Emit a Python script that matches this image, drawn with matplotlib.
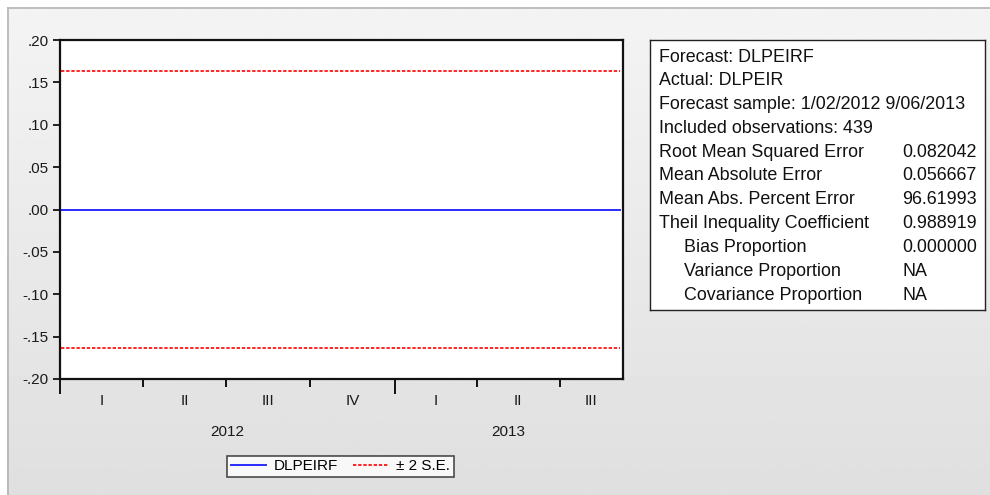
import numpy as np
import pandas as pd
import matplotlib
matplotlib.use("Agg")
import matplotlib.pyplot as plt
import matplotlib.dates as mdates

plt.rcParams['font.family'] = ['Liberation Sans', 'DejaVu Sans']

# data
dates = pd.bdate_range("2012-01-02", "2013-09-06")[:439]
forecast = np.zeros(len(dates))          # DLPEIRF
se2 = 0.1635                              # 2 * S.E.
upper = np.full(len(dates), se2)
lower = np.full(len(dates), -se2)

yticks = [-0.20, -0.15, -0.10, -0.05, 0.00, 0.05, 0.10, 0.15, 0.20]
ytick_labels = ['-.20', '-.15', '-.10', '-.05', '.00', '.05', '.10', '.15', '.20']
quarter_starts = ["2012-01-01", "2012-04-01", "2012-07-01", "2012-10-01",
                  "2013-01-01", "2013-04-01", "2013-07-01", "2013-09-07"]
quarter_labels = ['I', 'II', 'III', 'IV', 'I', 'II', 'III']
year_labels = ['2012', '2013']
year_bounds = ["2012-01-01", "2013-01-01", "2013-09-07"]

stats_left = ["Forecast: DLPEIRF", "Actual: DLPEIR",
              "Forecast sample: 1/02/2012 9/06/2013",
              "Included observations: 439",
              "Root Mean Squared Error", "Mean Absolute Error",
              "Mean Abs. Percent Error", "Theil Inequality Coefficient",
              "Bias Proportion", "Variance Proportion",
              "Covariance Proportion"]
stats_indent = [0, 0, 0, 0, 0, 0, 0, 0, 1, 1, 1]
stats_right = ["", "", "", "", "0.082042", "0.056667", "96.61993",
               "0.988919", "0.000000", "NA", "NA"]

fig = plt.figure(figsize=(9.9, 4.95), dpi=100)
fig.patch.set_facecolor('white')

# gradient background
bg = fig.add_axes([0, 0, 1, 1], zorder=-10)
grad = np.linspace(0.955, 0.875, 256).reshape(-1, 1)
bg.imshow(np.repeat(grad, 2, axis=1), cmap='gray', vmin=0, vmax=1,
          aspect='auto', extent=[7/990, 1, 0, 1 - 7/495])
bg.set_xlim(0, 1)
bg.set_ylim(0, 1)
bg.axis('off')
bg.plot([7.5/990, 7.5/990], [0, 1 - 7.5/495], color='#b4b4b4', lw=1.2)
bg.plot([7.5/990, 1], [1 - 7.5/495, 1 - 7.5/495], color='#b4b4b4', lw=1.2)

ax = fig.add_axes([60/990, 1 - 379/495, 563/990, 339/495])
x = mdates.date2num(dates)
ax.plot(x, forecast, color='#2a2aff', lw=1.4, label='DLPEIRF')
ax.plot(x, upper, color='red', lw=1.2, ls=(0, (2.0, 1.1)), label='± 2 S.E.')
ax.plot(x, lower, color='red', lw=1.2, ls=(0, (2.0, 1.1)))

xmin = mdates.date2num(pd.Timestamp("2012-01-01"))
xmax = mdates.date2num(pd.Timestamp("2013-09-08"))
ax.set_xlim(xmin, xmax)
ax.set_ylim(-0.2, 0.2)
ax.set_yticks(yticks)
ax.set_yticklabels(ytick_labels, fontsize=11, color='#1a1a1a')
ax.tick_params(axis='y', direction='out', length=5, width=1.2, pad=3)

qnum = mdates.date2num(pd.to_datetime(quarter_starts))
ynum = mdates.date2num(pd.to_datetime(year_bounds))
ax.set_xticks(ynum[:-1])
ax.set_xticks(qnum[:-1], minor=True)
ax.set_xticklabels([])
ax.tick_params(axis='x', which='major', direction='out', length=11, width=1.3)
ax.tick_params(axis='x', which='minor', direction='out', length=6, width=1.3)

trans = ax.get_xaxis_transform()
for i, lab in enumerate(quarter_labels):
    mid = (qnum[i] + qnum[i + 1]) / 2
    ax.text(mid, -0.065, lab, transform=trans, ha='center', va='center',
            fontsize=11, color='#1a1a1a')
for i, lab in enumerate(year_labels):
    mid = (ynum[i] + ynum[i + 1]) / 2
    ax.text(mid, -0.155, lab, transform=trans, ha='center', va='center',
            fontsize=11, color='#1a1a1a')

for s in ax.spines.values():
    s.set_linewidth(1.6)
    s.set_color('#111111')

# stats box
box = fig.add_axes([650/990, 1 - 310/495, 335/990, 270/495])
box.set_xticks([])
box.set_yticks([])
for s in box.spines.values():
    s.set_linewidth(1.0)
    s.set_color('#222222')
for i, (l, r) in enumerate(zip(stats_left, stats_right)):
    yy = 1 - (17 + i * 23.8) / 270
    box.text((9 + 25 * stats_indent[i]) / 335, yy, l, transform=box.transAxes,
             va='center', ha='left', fontsize=12.9, color='#111111')
    if r:
        box.text(252/335, yy, r, transform=box.transAxes, va='center', ha='left',
                 fontsize=12.9, color='#111111')

leg = fig.legend(loc='center', bbox_to_anchor=(340.5/990, 1 - 466.5/495),
                 ncol=2, fontsize=11, frameon=True, fancybox=False,
                 handlelength=2.3, handletextpad=0.5, columnspacing=1.0,
                 borderpad=0.25)
leg.get_frame().set_edgecolor('#222222')
leg.get_frame().set_linewidth(1.2)

fig.savefig('out.png', dpi=100, facecolor=fig.get_facecolor())
